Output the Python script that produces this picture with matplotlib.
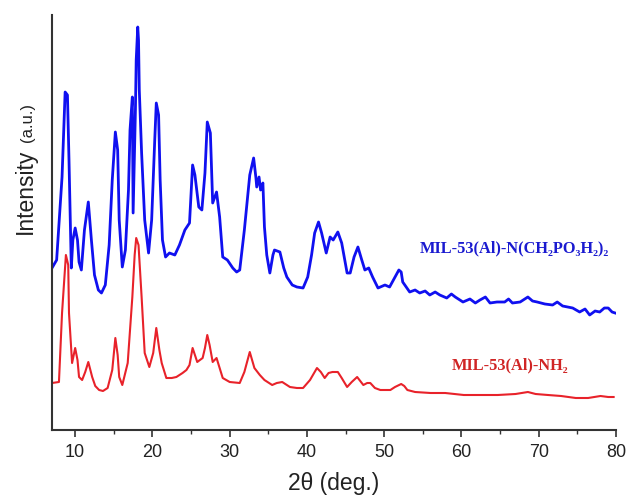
import matplotlib
matplotlib.use("Agg")
import matplotlib.pyplot as plt
from matplotlib.ticker import MultipleLocator, NullLocator

# 2theta (deg) and intensity (a.u.)
blue_x = [7.0, 7.6, 8.3, 8.7, 9.0, 9.2, 9.5, 9.7, 10.0, 10.3, 10.5, 10.8, 11.2, 11.7, 12.1, 12.5,
          13.0, 13.4, 13.9, 14.4, 14.8, 15.2, 15.5, 15.7, 16.1, 16.5, 16.9, 17.1, 17.4, 17.5,
          17.8, 17.9, 18.1, 18.2, 18.3, 18.6, 19.0, 19.5, 19.9, 20.3, 20.5, 20.8, 21.0, 21.3,
          21.7, 22.2, 22.9, 23.5, 24.2, 24.8, 25.2, 25.5, 26.0, 26.4, 26.8, 27.1, 27.5, 27.8,
          28.3, 28.7, 29.1, 29.7, 30.4, 30.9, 31.3, 31.9, 32.6, 33.1, 33.4, 33.5, 33.8, 34.0,
          34.3, 34.5, 34.8, 35.2, 35.6, 35.8, 36.5, 37.0, 37.4, 38.1, 38.7, 39.5, 40.1, 40.6,
          41.0, 41.5, 41.9, 42.5, 43.0, 43.4, 44.0, 44.5, 45.2, 45.6, 46.1, 46.6, 47.1, 47.5,
          48.0, 48.5, 49.2, 50.1, 50.7, 51.4, 51.9, 52.2, 52.4, 53.3, 54.0, 54.6, 55.3, 55.9,
          56.6, 57.2, 58.1, 58.7, 59.2, 60.2, 61.1, 61.8, 62.4, 63.1, 63.7, 64.6, 65.6, 66.1,
          66.6, 67.6, 68.6, 69.2, 69.8, 70.8, 71.8, 72.4, 73.1, 74.4, 75.3, 76.0, 76.6, 77.3,
          77.9, 78.5, 79.0, 79.5, 79.9]
blue_y = [162, 170, 253, 338, 335, 270, 162, 190, 202, 190, 168, 160, 200, 228, 190, 155,
          140, 137, 145, 185, 250, 298, 280, 210, 163, 180, 240, 300, 333, 217,
          320, 370, 403, 390, 340, 277, 210, 177, 210, 290, 327, 315, 250, 190,
          173, 177, 175, 185, 200, 207, 265, 255, 223, 220, 257, 308, 297, 227,
          238, 213, 173, 170, 162, 158, 160, 200, 255, 272, 252, 243, 253, 240,
          247, 203, 175, 157, 175, 180, 178, 162, 153, 145, 143, 142, 153, 175,
          197, 208, 197, 177, 193, 190, 198, 187, 157, 157, 173, 183, 170, 160,
          162, 153, 142, 145, 143, 153, 160, 158, 148, 138, 140, 137, 139, 135,
          138, 135, 132, 136, 133, 128, 131, 127, 130, 133, 127, 128, 128, 131,
          127, 128, 133, 129, 128, 126, 125, 128, 124, 122, 118, 121, 115, 119,
          118, 122, 122, 118, 117]

red_x = [7.0, 7.9, 8.3, 8.8, 9.1, 9.2, 9.6, 10.0, 10.3, 10.5, 10.9, 11.3, 11.7, 12.2, 12.6,
         13.1, 13.6, 14.2, 14.8, 15.2, 15.5, 15.7, 16.1, 16.8, 17.4, 17.7, 17.9, 18.2, 18.6,
         19.0, 19.6, 20.1, 20.5, 20.9, 21.2, 21.8, 22.5, 23.1, 23.9, 24.4, 24.8, 25.2, 25.8,
         26.5, 26.8, 27.1, 27.4, 27.8, 28.3, 28.7, 29.1, 30.0, 31.3, 31.9, 32.6, 33.2, 33.9,
         34.5, 35.5, 36.1, 36.8, 37.8, 38.7, 39.5, 40.4, 41.3, 41.8, 42.3, 42.8, 43.3, 44.0,
         44.5, 45.2, 45.8, 46.5, 47.3, 47.8, 48.2, 48.8, 49.5, 50.8, 51.4, 52.2, 52.6, 53.0,
         54.0, 56.0, 57.9, 60.3, 62.5, 64.7, 67.0, 68.6, 69.6, 71.2, 72.9, 74.8, 76.4, 78.0,
         79.0, 79.7]
red_y = [47, 48, 117, 175, 165, 117, 67, 82, 70, 53, 50, 58, 68, 53, 44,
         40, 39, 42, 60, 92, 75, 53, 45, 67, 133, 175, 192, 185, 133,
         77, 63, 77, 102, 80, 67, 52, 52, 53, 57, 60, 65, 82, 68,
         72, 82, 95, 85, 68, 72, 62, 52, 48, 47, 58, 78, 62, 55,
         50, 45, 47, 48, 43, 42, 42, 50, 62, 58, 52, 57, 58, 58,
         52, 43, 48, 53, 45, 47, 47, 42, 40, 40, 43, 46, 44, 40,
         38, 37, 37, 35, 35, 35, 36, 38, 36, 35, 34, 32, 32, 34,
         33, 33]

x_ticks = [10, 20, 30, 40, 50, 60, 70, 80]
blue_label = "MIL-53(Al)-N(CH\u2082PO\u2083H\u2082)\u2082"
red_label = "MIL-53(Al)-NH\u2082"

fig = plt.figure(figsize=(6.28, 5.0), dpi=100)
ax = fig.add_axes([0.0828, 0.14, 0.898, 0.83])

ax.plot(blue_x, blue_y, color="#1010f0", lw=2.0, solid_joinstyle="round")
ax.plot(red_x, red_y, color="#e8222a", lw=1.5, solid_joinstyle="round")

ax.set_xlim(7, 80)
ax.set_ylim(0, 415)

for s in ["top", "right"]:
    ax.spines[s].set_visible(False)
for s in ["left", "bottom"]:
    ax.spines[s].set_color("#333333")
    ax.spines[s].set_linewidth(1.5)

ax.set_xticks(x_ticks)
ax.xaxis.set_minor_locator(MultipleLocator(5))
ax.yaxis.set_major_locator(NullLocator())
ax.tick_params(axis="x", which="major", direction="out", length=5, width=1.2,
               color="#333333", labelsize=13, labelcolor="#222222", pad=5)
ax.tick_params(axis="x", which="minor", direction="out", length=3, width=1.0,
               color="#333333")
for lab in ax.get_xticklabels():
    lab.set_family("Liberation Sans")

ax.set_xlabel("2\u03b8 (deg.)", fontsize=16.5, family="Liberation Sans",
              color="#222222", labelpad=8)

fig.text(0.04, 0.618, "Intensity", rotation=90, fontsize=16.5, family="Liberation Sans",
         color="#222222", ha="center", va="center")
fig.text(0.043, 0.755, "(a.u.)", rotation=90, fontsize=12, family="Liberation Sans",
         color="#222222", ha="center", va="center")

ax.text(54.6, 182, blue_label, color="#1a1ad0", fontsize=11.8, fontweight="bold",
        family=["Liberation Serif", "DejaVu Serif"], ha="left", va="center")
ax.text(58.7, 65, red_label, color="#d02525", fontsize=11.8, fontweight="bold",
        family=["Liberation Serif", "DejaVu Serif"], ha="left", va="center")

fig.savefig("out.png", dpi=100)
